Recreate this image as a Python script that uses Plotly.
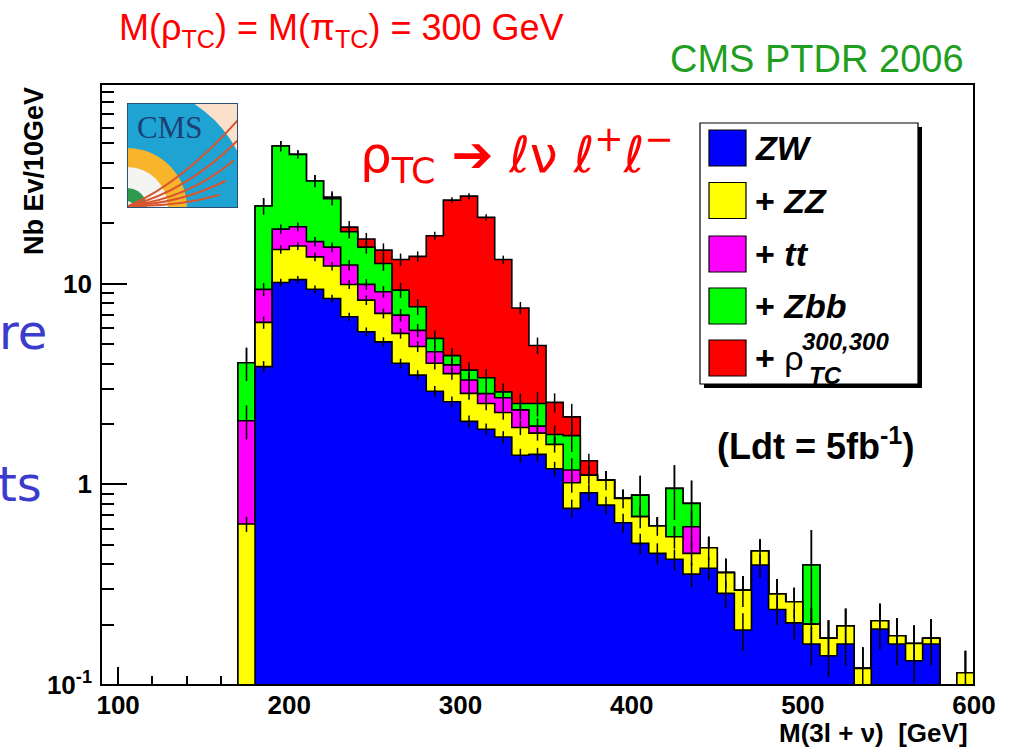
import base64
import numpy as np
import plotly.graph_objects as go

# 10 GeV bins: lower edges
bin_low_edges = [170, 180, 190, 200, 210, 220, 230, 240, 250, 260,
                 270, 280, 290, 300, 310, 320, 330, 340, 350, 360,
                 370, 380, 390, 400, 410, 420, 430, 440, 450, 460,
                 470, 480, 490, 500, 510, 520, 530, 540, 550, 560,
                 570, 580, 590]
bin_width = 10

# events per 10 GeV for each process (Ldt = 5 fb^-1)
zw = [0, 3.86, 10.13, 10.48, 9.38, 8.43, 6.84, 5.76, 5.13, 4.01,
      3.50, 2.91, 2.58, 2.06, 1.88, 1.72, 1.395, 1.41, 1.195, 0.759,
      0.908, 0.788, 0.644, 0.508, 0.453, 0.423, 0.357, 0.382, 0.286, 0.188,
      0.396, 0.238, 0.204, 0.160, 0.140, 0.160, 0, 0.190, 0.160, 0.132,
      0.160, 0, 0]
zz = [0.634, 2.55, 4.67, 4.92, 4.22, 3.81, 3.06, 2.52, 1.98, 1.64,
      1.36, 1.10, 0.98, 0.78, 0.65, 0.56, 0.525, 0.39, 0.385, 0.259,
      0.202, 0.262, 0.207, 0.182, 0.167, 0.125, 0.096, 0.101, 0.077, 0.109,
      0.069, 0.046, 0.056, 0.041, 0.031, 0.037, 0.121, 0.019, 0.016, 0.029,
      0.011, 0, 0.115]
tt = [1.44, 2.96, 3.9, 3.8, 2.6, 2.96, 2.48, 1.64, 2.0, 1.32,
      0.99, 0.57, 0.38, 0.47, 0.30, 0.42, 0.43, 0.15, 0, 0.16,
      0, 0, 0, 0, 0, 0, 0.162, 0, 0, 0,
      0, 0, 0, 0, 0, 0, 0, 0, 0, 0,
      0, 0, 0]
zbb = [1.96, 15.0, 29.8, 24.9, 16.3, 11.3, 5.76, 5.28, 3.49, 2.32,
       1.82, 0.76, 0.44, 0.40, 0.57, 0.19, 0.18, 0.58, 0.19, 0.57,
       0, 0, 0, 0.194, 0, 0.407, 0.189, 0, 0, 0,
       0, 0, 0, 0.195, 0, 0, 0, 0, 0, 0,
       0, 0, 0]
rho_tc = [0, 0, 0, 0, 0, 0.5, 1.0, 1.5, 2.1, 3.9,
          6.0, 12.0, 21.7, 23.6, 18.0, 10.3, 5.03, 2.39, 0.79, 0.42,
          0.20, 0, 0, 0, 0, 0, 0, 0, 0, 0,
          0, 0, 0, 0, 0, 0, 0, 0, 0, 0,
          0, 0, 0]

# statistical errors on each cumulative histogram
err_zw = [0, 0.25, 0.45, 0.45, 0.42, 0.38, 0.33, 0.29, 0.27, 0.22,
          0.2, 0.18, 0.16, 0.14, 0.13, 0.12, 0.11, 0.11, 0.1, 0.08,
          0.09, 0.08, 0.07, 0.06, 0.055, 0.05, 0.05, 0.05, 0.045, 0.04,
          0.055, 0.04, 0.035, 0.035, 0.03, 0.035, 0, 0.04, 0.035, 0.03,
          0.035, 0, 0]
err_zz = [0.055, 0.45, 0.7, 0.7, 0.65, 0.6, 0.5, 0.45, 0.4, 0.33,
          0.3, 0.27, 0.24, 0.2, 0.19, 0.18, 0.16, 0.15, 0.14, 0.11,
          0.11, 0.115, 0.09, 0.085, 0.066, 0.07, 0.06, 0.065, 0.063, 0.052,
          0.069, 0.053, 0.045, 0.04, 0.039, 0.043, 0.033, 0.045, 0.04, 0.037,
          0.042, 0, 0.033]
err_tt = [0.4, 0.7, 1.0, 1.0, 0.9, 0.85, 0.75, 0.6, 0.6, 0.5,
          0.45, 0.35, 0.3, 0.28, 0.25, 0.26, 0.25, 0.18, 0.14, 0.17,
          0.11, 0.115, 0.09, 0.085, 0.066, 0.07, 0.13, 0.065, 0.063, 0.052,
          0.069, 0.053, 0.045, 0.04, 0.039, 0.043, 0.033, 0.045, 0.04, 0.037,
          0.042, 0, 0.033]
err_zbb = [0.76, 2.3, 2.9, 2.1, 2.3, 1.9, 1.3, 1.1, 1.0, 0.8,
           0.7, 0.5, 0.4, 0.35, 0.35, 0.3, 0.3, 0.35, 0.2, 0.3,
           0.11, 0.115, 0.09, 0.22, 0.066, 0.29, 0.24, 0.065, 0.063, 0.052,
           0.069, 0.053, 0.045, 0.196, 0.039, 0.043, 0.033, 0.045, 0.04, 0.037,
           0.042, 0, 0.033]
err_rho = [0.76, 2.3, 2.9, 2.1, 2.3, 1.9, 1.36, 1.2, 1.17, 0.94,
           0.8, 0.8, 0.9, 0.95, 0.75, 0.6, 0.54, 0.47, 0.28, 0.35,
           0.11, 0.115, 0.09, 0.22, 0.066, 0.29, 0.24, 0.065, 0.063, 0.052,
           0.069, 0.053, 0.045, 0.196, 0.039, 0.043, 0.033, 0.045, 0.04, 0.037,
           0.042, 0, 0.033]

x_ticks = [100, 200, 300, 400, 500, 600]
y_ticks = [0.1, 1, 10]
y_tick_text = ["10<sup>-1</sup>", "1", "10"]

# ---------------------------------------------------------------
edges_lo = np.array(bin_low_edges, dtype=float)
edges_hi = edges_lo + bin_width
centers = edges_lo + bin_width / 2
stack = np.cumsum(np.array([zw, zz, tt, zbb, rho_tc]), axis=0)

FLOOR = 1e-3  # below the visible range; the plot area clips it


def step_outline(values):
    xs, ys = [edges_lo[0]], [FLOOR]
    for lo, hi, v in zip(edges_lo, edges_hi, values):
        h = v if v > 0 else FLOOR
        xs += [lo, hi]
        ys += [h, h]
    xs.append(edges_hi[-1])
    ys.append(FLOOR)
    return xs, ys


levels = [
    (stack[4], err_rho, "#ff0000"),
    (stack[3], err_zbb, "#00ff00"),
    (stack[2], err_tt, "#ff00ff"),
    (stack[1], err_zz, "#ffff00"),
    (stack[0], err_zw, "#0000ff"),
]

fig = go.Figure()
for values, errs, color in levels:
    xs, ys = step_outline(values)
    fig.add_trace(go.Scatter(
        x=xs, y=ys, mode="lines", fill="toself", fillcolor=color,
        line=dict(color="black", width=1.6), hoverinfo="skip", showlegend=False))
    keep = [i for i, v in enumerate(values) if v > 0 and errs[i] > 0]
    fig.add_trace(go.Scatter(
        x=centers[keep], y=values[keep], mode="markers",
        marker=dict(size=2, color="rgba(0,0,0,0)"),
        error_y=dict(type="data", array=np.array(errs)[keep], color="black",
                     thickness=1.5, width=0),
        hoverinfo="skip", showlegend=False))

# plot frame in pixels
PL, PR, PT, PB = 101, 974, 84, 685


def px(x):
    return (x - PL) / (PR - PL)


def py(y):
    return (PB - y) / (PB - PT)


BOLD = "Liberation Sans"

shapes = [
    dict(type="rect", xref="paper", yref="paper", x0=0, x1=1, y0=0, y1=1,
         line=dict(color="black", width=2), layer="above"),
    # legend box with drop shadow
    dict(type="rect", xref="paper", yref="paper", x0=px(704), x1=px(922),
         y0=py(388), y1=py(127), fillcolor="black", line=dict(width=0), layer="above"),
    dict(type="rect", xref="paper", yref="paper", x0=px(700), x1=px(918),
         y0=py(384), y1=py(123), fillcolor="white",
         line=dict(color="black", width=1.2), layer="above"),
]
legend_rows = [("#0000ff", 148, "<b><i>ZW</i></b>"),
               ("#ffff00", 200.5, "<b>+ <i>ZZ</i></b>"),
               ("#ff00ff", 254, "<b>+ <i>tt</i></b>"),
               ("#00ff00", 306, "<b>+ <i>Zbb</i></b>"),
               ("#ff0000", 358, "<b>+</b> ρ")]
annotations = []
for color, yc, label in legend_rows:
    shapes.append(dict(type="rect", xref="paper", yref="paper",
                       x0=px(709), x1=px(746), y0=py(yc + 18), y1=py(yc - 18),
                       fillcolor=color, line=dict(color="black", width=1.2),
                       layer="above"))
    annotations.append(dict(xref="paper", yref="paper", x=px(753), y=py(yc),
                            xanchor="left", yanchor="middle", showarrow=False,
                            text=label, font=dict(family=BOLD, size=34, color="black")))
annotations += [
    dict(xref="paper", yref="paper", x=px(800), y=py(341), xanchor="left",
         yanchor="middle", showarrow=False, text="<b><i>300,300</i></b>",
         font=dict(family=BOLD, size=24, color="black")),
    dict(xref="paper", yref="paper", x=px(807), y=py(375), xanchor="left",
         yanchor="middle", showarrow=False, text="<b><i>TC</i></b>",
         font=dict(family=BOLD, size=24, color="black")),
    # headline texts
    dict(xref="paper", yref="paper", x=px(117), y=py(30), xanchor="left",
         yanchor="middle", showarrow=False,
         text="M(ρ<sub>TC</sub>) = M(π<sub>TC</sub>) = 300 GeV",
         font=dict(family=BOLD, size=36, color="#ff0000")),
    dict(xref="paper", yref="paper", x=px(966), y=py(59), xanchor="right",
         yanchor="middle", showarrow=False, text="CMS PTDR 2006",
         font=dict(family=BOLD, size=38, color="#1f9e1f")),
    dict(xref="paper", yref="paper", x=px(358), y=py(155), xanchor="left",
         yanchor="middle", showarrow=False,
         text="ρ<sub>TC</sub> ➔ ℓν ℓ<sup>+</sup>ℓ<sup>−</sup>",
         font=dict(family="DejaVu Sans", size=50, color="#ff0000")),
    dict(xref="paper", yref="paper", x=px(815), y=py(444), xanchor="center",
         yanchor="middle", showarrow=False,
         text="<b>(Ldt = 5fb<sup>-1</sup>)</b>",
         font=dict(family=BOLD, size=36, color="black")),
    # axis titles
    dict(xref="paper", yref="paper", x=px(970), y=py(733), xanchor="right",
         yanchor="middle", showarrow=False,
         text="<b>M(3l + ν)\u00a0\u00a0[GeV]</b>",
         font=dict(family=BOLD, size=26, color="black")),
    dict(xref="paper", yref="paper", x=px(34), y=py(171), xanchor="center",
         yanchor="middle", showarrow=False, textangle=-90,
         text="<b>Nb Ev/10GeV</b>",
         font=dict(family=BOLD, size=27, color="black")),
    # slide text running in from the left
    dict(xref="paper", yref="paper", x=px(49), y=py(332), xanchor="right",
         yanchor="middle", showarrow=False, text="re",
         font=dict(family="DejaVu Sans", size=48, color="#3b3bcc")),
    dict(xref="paper", yref="paper", x=px(44), y=py(484), xanchor="right",
         yanchor="middle", showarrow=False, text="ts",
         font=dict(family="DejaVu Sans", size=48, color="#3b3bcc")),
    # logo lettering
    dict(xref="paper", yref="paper", x=px(169), y=py(127), xanchor="center",
         yanchor="middle", showarrow=False, text="CMS",
         font=dict(family="Liberation Serif", size=31, color="#1d3f73")),
]

logo_svg = """<svg xmlns="http://www.w3.org/2000/svg" width="111" height="105" viewBox="0 0 111 105">
<defs><clipPath id="c"><rect width="111" height="105"/></clipPath></defs>
<g clip-path="url(#c)">
<rect width="111" height="105" fill="#fbe1cb"/>
<circle cx="0" cy="105" r="124" fill="#1ea3d3"/>
<circle cx="0" cy="105" r="60" fill="#f8b42b"/>
<circle cx="0" cy="105" r="41" fill="#f4f4f2"/>
<circle cx="0" cy="105" r="20" fill="#2f9a4e"/>
<circle cx="0" cy="105" r="7" fill="#e8e8e8"/>
<g stroke="#d8552e" stroke-width="2" fill="none" stroke-linecap="round">
<path d="M2,103 Q55,80 112,16"/>
<path d="M2,103 Q60,88 110,38"/>
<path d="M2,103 Q62,95 106,58"/>
<path d="M2,103 Q55,100 98,78"/>
<path d="M2,103 Q50,104 92,92"/>
</g>
</g>
<rect x="0.5" y="0.5" width="110" height="104" fill="none" stroke="#2c4f78" stroke-width="1"/>
</svg>"""
logo_src = "data:image/svg+xml;base64," + base64.b64encode(logo_svg.encode()).decode()

axis_font = dict(family=BOLD, size=26, color="black", weight="bold")
fig.update_layout(
    width=1014, height=747,
    margin=dict(l=PL, r=1014 - PR, t=PT, b=747 - PB),
    paper_bgcolor="white", plot_bgcolor="white",
    showlegend=False,
    shapes=shapes,
    annotations=annotations,
    images=[dict(source=logo_src, xref="paper", yref="paper",
                 x=px(127), y=py(103), sizex=111 / (PR - PL), sizey=105 / (PB - PT),
                 xanchor="left", yanchor="top", sizing="stretch", layer="above")],
    xaxis=dict(range=[90, 600], tickmode="array", tickvals=x_ticks,
               ticks="inside", ticklen=18, tickwidth=1.5, tickcolor="black",
               minor=dict(dtick=20, ticks="inside", ticklen=9, tickwidth=1.5,
                          tickcolor="black", showgrid=False),
               showgrid=False, zeroline=False, showline=False,
               layer="below traces", tickfont=axis_font, ticklabelstandoff=2),
    yaxis=dict(type="log", range=[-1, 1.995], tickmode="array",
               tickvals=y_ticks, ticktext=y_tick_text,
               ticks="inside", ticklen=26, tickwidth=1.5, tickcolor="black",
               minor=dict(dtick="D1", ticks="inside", ticklen=13, tickwidth=1.5,
                          tickcolor="black", showgrid=False),
               showgrid=False, zeroline=False, showline=False,
               layer="below traces", tickfont=axis_font, ticklabelstandoff=8),
)

fig.write_html("out.html")
